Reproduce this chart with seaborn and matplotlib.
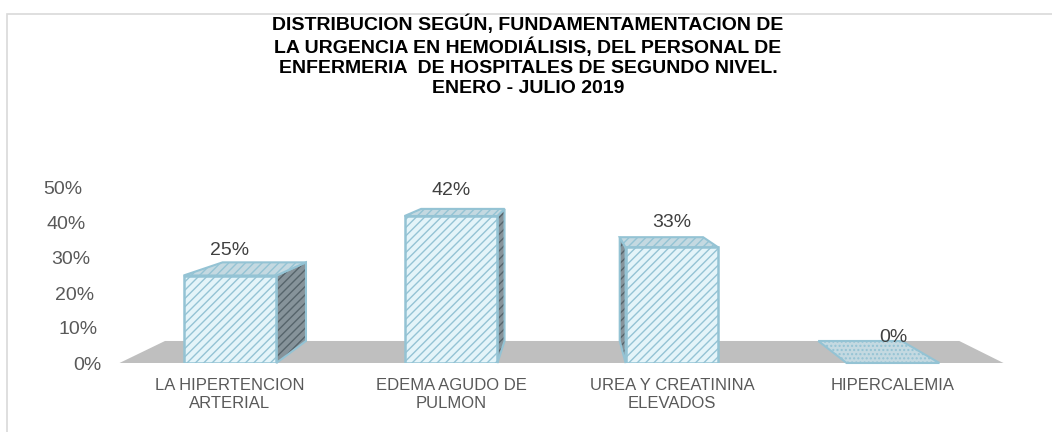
import matplotlib
matplotlib.use("Agg")
import matplotlib.pyplot as plt
import matplotlib.transforms as mtransforms
from matplotlib.patches import Polygon, Rectangle
import seaborn as sns

categorias = ["LA HIPERTENCION\nARTERIAL", "EDEMA AGUDO DE\nPULMON",
              "UREA Y CREATININA\nELEVADOS", "HIPERCALEMIA"]
porcentajes = [0.25, 0.42, 0.33, 0.0]
ticks_y = [0, 0.1, 0.2, 0.3, 0.4, 0.5]
etiquetas_y = ["0%", "10%", "20%", "30%", "40%", "50%"]
titulo = ("DISTRIBUCION SEGÚN, FUNDAMENTAMENTACION DE\n"
          "LA URGENCIA EN HEMODIÁLISIS, DEL PERSONAL DE\n"
          "ENFERMERIA  DE HOSPITALES DE SEGUNDO NIVEL.\n"
          "ENERO - JULIO 2019")

sns.set_style("white")
plt.rcParams["font.family"] = ["Liberation Sans", "DejaVu Sans"]
plt.rcParams["hatch.linewidth"] = 1.0

fig = plt.figure(figsize=(10.52, 4.32), dpi=100)

# marco gris del area del grafico (en pixeles)
fig.add_artist(Rectangle((7, -10), 1100, 432 - 14 + 10, transform=None,
                         fill=False, edgecolor="#d9d9d9", lw=1.2))

fig.text(0.502, 1 - 56 / 432, titulo, ha="center", va="center",
         fontsize=14, fontweight="bold", color="#000000", linespacing=1.22)

ax = fig.add_axes([119.5 / 1052, 69 / 432, 884 / 1052, 175 / 432])

sns.barplot(x=categorias, y=porcentajes, ax=ax, width=0.42, color="#e4f4f9",
            saturation=1, edgecolor="#94c3d4", linewidth=1.8, hatch="////",
            zorder=3)
barras = list(ax.patches)

ax.set_xlim(-0.5, 3.5)
ax.set_ylim(0, 0.5)

# perspectiva sencilla: cara trasera = cara frontal acercada al punto de fuga
punto_fuga = ax.transAxes.transform((0.507, 1.24))
prof = 0.1015
a_datos = ax.transData.inverted()


def fondo(p):
    return p + (punto_fuga - p) * prof


def cara(puntos, **kw):
    ax.add_patch(Polygon(a_datos.transform(puntos), closed=True,
                         clip_on=False, **kw))


# piso
x0, x1 = ax.get_xlim()
fi, fd = ax.transData.transform([(x0, 0), (x1, 0)])
cara([fi, fd, fondo(fd), fondo(fi)], facecolor="#bfbfbf",
     edgecolor="none", zorder=0.5)

for barra, valor in zip(barras, porcentajes):
    x, y = barra.get_x(), barra.get_y()
    w, h = barra.get_width(), barra.get_height()
    si, sd, ii, idr = ax.transData.transform(
        [(x, y + h), (x + w, y + h), (x, y), (x + w, y)])

    # lado
    if h > 0:
        if (si[0] + sd[0]) / 2 < punto_fuga[0]:
            lado = [sd, idr, fondo(idr), fondo(sd)]
        else:
            lado = [si, ii, fondo(ii), fondo(si)]
        cara(lado, facecolor="#86939a", edgecolor="#56646b", lw=0,
             hatch="////", zorder=2)
        cara(lado, fill=False, edgecolor="#94c3d4", lw=1.5, zorder=2.1)

    # tapa
    cara([si, sd, fondo(sd), fondo(si)], facecolor="#c4d9e1",
         edgecolor="#94c3d4", lw=1.5,
         hatch="...." if valor == 0 else "////", zorder=2.2)

    ax.annotate(f"{valor:.0%}", (x + w / 2, valor), xytext=(0, 18),
                textcoords="offset points", ha="center", va="center",
                fontsize=14, color="#404040", zorder=5)

ax.set_yticks(ticks_y, labels=etiquetas_y)
ax.tick_params(axis="y", length=0, pad=12.6, labelsize=14,
               labelcolor="#595959")
for etiqueta, v in zip(ax.get_yticklabels(), ticks_y):
    etiqueta.set_transform(etiqueta.get_transform() + mtransforms.ScaledTranslation(
        -0.2 * v / 0.5, 0, fig.dpi_scale_trans))

ax.tick_params(axis="x", length=0, pad=11, labelsize=12, labelcolor="#595959")
ax.set_xlabel("")
ax.set_ylabel("")
sns.despine(ax=ax, left=True, bottom=True)

fig.savefig("out.png", dpi=100)
